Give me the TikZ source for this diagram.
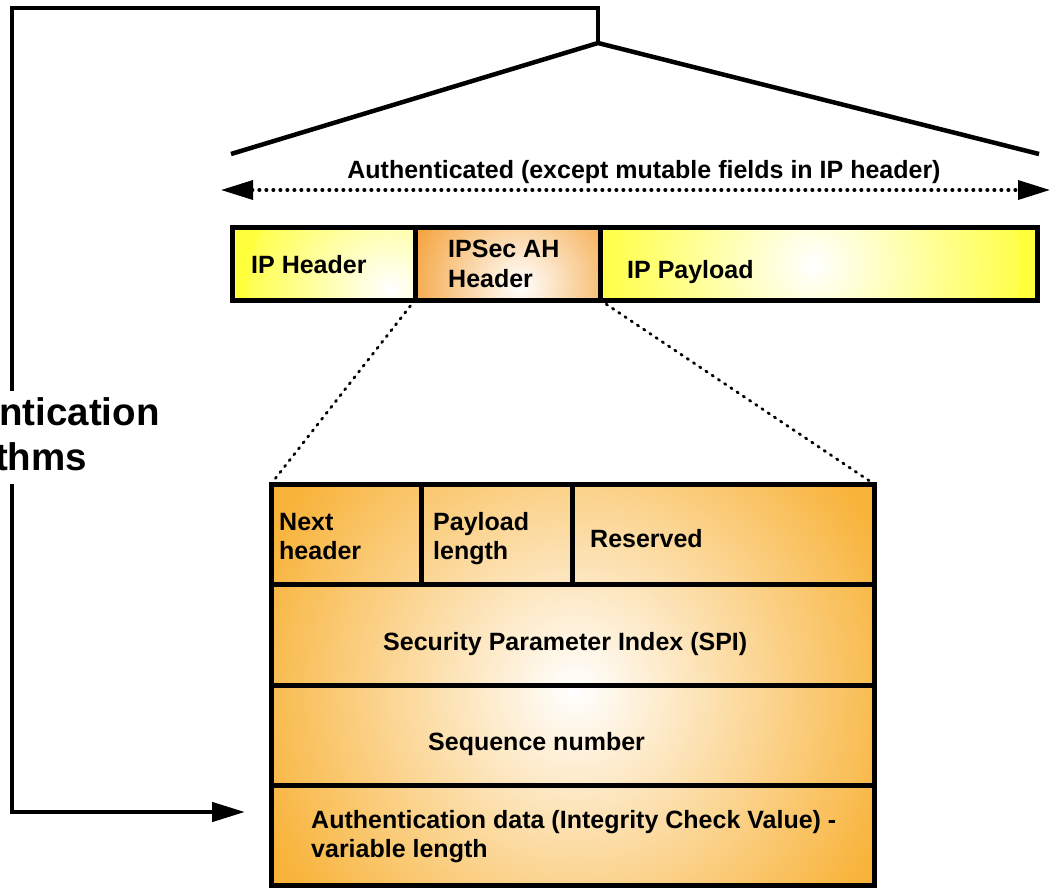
\documentclass[tikz,border=0pt]{standalone}
\usepackage{fontspec}
\setmainfont{Liberation Sans}
\usetikzlibrary{positioning}
\usetikzlibrary{arrows.meta}
\definecolor{BLACK}{HTML}{000000}
\definecolor{YELLOW}{HTML}{FFFF3C}
\definecolor{ORANGE}{HTML}{F4A036}
\definecolor{ORANGE_A}{HTML}{F8B33A}
\tikzset{
	every node/.style = {font=\bfseries\fontsize{25}{29}\selectfont},
	cell/.style 2 args = {draw=BLACK, line width=5pt, inner sep=0pt, outer sep=0pt, anchor=north west, minimum width=#1, minimum height=#2},
	% radial glow, white spot shifted from the north west corner
	glow/.style n args = {3}{fill=#1, path picture={\shade[inner color=white, outer color=#1] ([shift={(#2)}]path picture bounding box.north west) circle (#3);}},
	field/.style = {anchor=base west, align=left, inner sep=0pt},
	bracket/.style = {draw=BLACK, line width=4.5pt},
	authspan/.style = {line width=3.5pt, line cap=round, dash pattern=on 0.5pt off 6.5pt, {Triangle[length=32pt, width=19pt]}-{Triangle[length=32pt, width=19pt]}},
	zoomline/.style = {line width=2.8pt, line cap=round, dash pattern=on 1.5pt off 6pt}
}
\begin{document}
\begin{tikzpicture}[x=1pt, y=-1pt]
		\useasboundingbox (0,0) rectangle (1051,889);
		
		% IP packet
		\node[cell={183pt}{73pt}, glow={YELLOW}{166,62}{150pt}] (iphdr) at (232,227) {};
		\node[cell={185pt}{73pt}, glow={ORANGE}{105,58}{120pt}] (ahhdr) at (iphdr.north east) {};
		\node[cell={437pt}{73pt}, glow={YELLOW}{205,38}{215pt}] (payload) at (ahhdr.north east) {};
		\node[field] (iphdrtxt) at ([shift={(19,46)}]iphdr.north west) {IP Header};
		% base = last line
		\node[field, text depth=0pt] (ahhdrtxt) at ([shift={(33,60)}]ahhdr.north west) {IPSec AH\\[1pt]Header};
		\node[field] (payloadtxt) at ([shift={(27,51)}]payload.north west) {IP Payload};
		
		% authenticated span
		\coordinate (authl) at (221,190);
		\coordinate (authr) at (1050,190);
		\draw[authspan] (authl) -- (authr);
		\node[anchor=base] (authtxt) at (644,178) {Authenticated (except mutable fields in IP header)};
		
		% AH header fields
		\node[cell={603pt}{401pt}, glow={ORANGE_A}{304,206}{340pt}] (ahbox) at (271,484) {};
		\draw[zoomline] (ahhdr.south west) -- (ahbox.north west);
		\draw[zoomline] (ahhdr.south east) -- (ahbox.north east);
		\node[cell={150pt}{100pt}] (nexthdr) at (ahbox.north west) {};
		\node[cell={151pt}{100pt}] (paylen) at (nexthdr.north east) {};
		\node[cell={302pt}{100pt}] (reserved) at (paylen.north east) {};
		\node[cell={603pt}{101pt}] (spi) at (nexthdr.south west) {};
		\node[cell={603pt}{100pt}] (seqnum) at (spi.south west) {};
		\node[cell={603pt}{100pt}] (authdata) at (seqnum.south west) {};
		\node[field] (nexthdrtxt) at ([shift={(8,75)}]nexthdr.north west) {Next\\header};
		\node[field] (paylentxt) at ([shift={(12,75)}]paylen.north west) {Payload\\length};
		\node[field] (reservedtxt) at ([shift={(18,63)}]reserved.north west) {Reserved};
		\node[field] (spitxt) at ([shift={(112,66)}]spi.north west) {Security Parameter Index (SPI)};
		\node[field] (seqnumtxt) at ([shift={(157,65)}]seqnum.north west) {Sequence number};
		\node[field] (authdatatxt) at ([shift={(40,72)}]authdata.north west) {Authentication data (Integrity Check Value) -\\variable length};
		
		% algorithms bracket
		\coordinate (apex) at (598,43);
		\coordinate (spanl) at (231,154);
		\coordinate (spanr) at (1039,154);
		\coordinate (corner) at (12,8);
		\coordinate (algotip) at (245,812);
		\draw[bracket] (spanl) -- (apex) -- (spanr);
		\draw[bracket, -{Triangle[length=33pt, width=19pt]}] (apex) |- (corner) |- (algotip);
		\node[fill=white, anchor=base west, align=left, inner xsep=0pt, inner ysep=6pt, font=\bfseries\fontsize{38.5}{45}\selectfont] (algo) at (-110,470) {Authentication\\algorithms};
	\end{tikzpicture}
\end{document}
